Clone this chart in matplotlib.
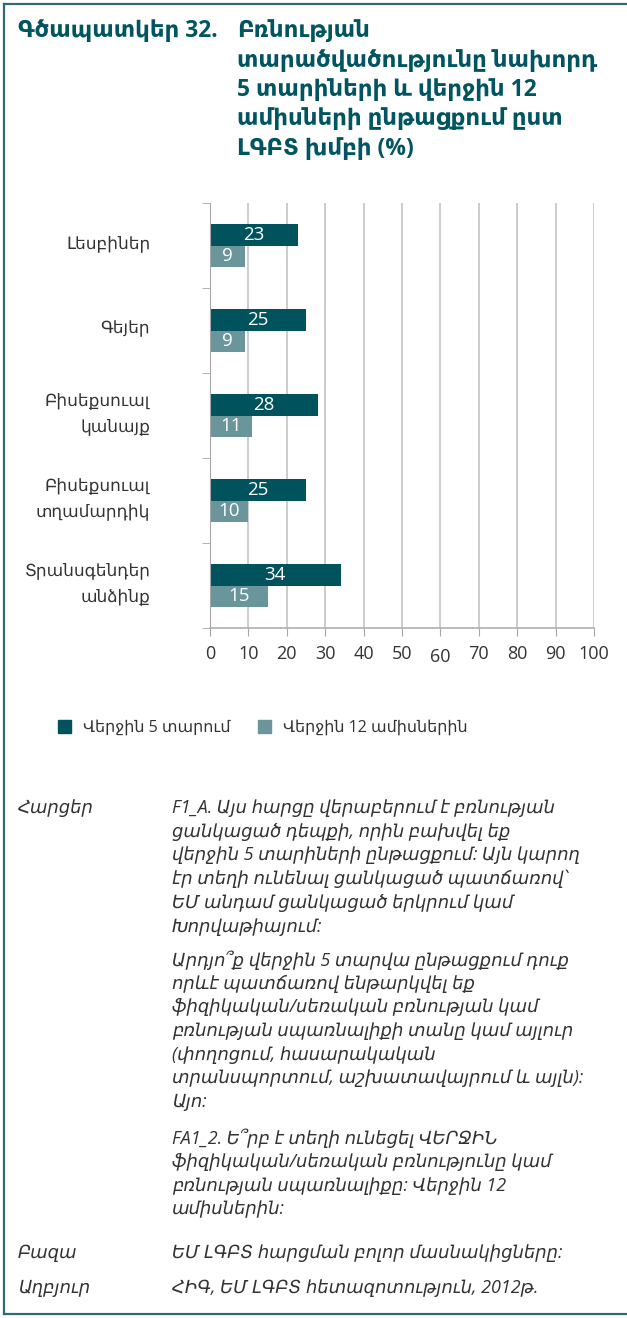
import matplotlib.pyplot as plt
from matplotlib.patches import Patch
from matplotlib.lines import Line2D
from matplotlib.transforms import ScaledTranslation

plt.rcParams['font.family'] = ['Open Sans', 'DejaVu Sans']

# data
categories = ['Լեսբիներ', 'Գեյեր', 'Բիսեքսուալ\nկանայք', 'Բիսեքսուալ\nտղամարդիկ',
              'Տրանսգենդեր\nանձինք']
last_5_years = [23, 25, 28, 25, 34]
last_12_months = [9, 9, 11, 10, 15]
series_names = ['Վերջին 5 տարում', 'Վերջին 12 ամիսներին']
x_ticks = [0, 10, 20, 30, 40, 50, 60, 70, 80, 90, 100]

title_head = 'Գծապատկեր 32.'
title_lines = ['Բռնության', 'տարածվածությունը նախորդ', '5 տարիների և վերջին 12',
               'ամիսների ընթացքում ըստ', 'ԼԳԲՏ խմբի (%)']

question_lines = [
    'F1_A. Այս հարցը վերաբերում է բռնության',
    'ցանկացած դեպքի, որին բախվել եք',
    'վերջին 5 տարիների ընթացքում: Այն կարող',
    'էր տեղի ունենալ ցանկացած պատճառով՝',
    'ԵՄ անդամ ցանկացած երկրում կամ',
    'Խորվաթիայում:',
    'Արդյո՞ք վերջին 5 տարվա ընթացքում դուք',
    'որևէ պատճառով ենթարկվել եք',
    'ֆիզիկական/սեռական բռնության կամ',
    'բռնության սպառնալիքի տանը կամ այլուր',
    '(փողոցում, հասարակական',
    'տրանսպորտում, աշխատավայրում և այլն):',
    'Այո:',
    'FA1_2. Ե՞րբ է տեղի ունեցել ՎԵՐՋԻՆ',
    'ֆիզիկական/սեռական բռնությունը կամ',
    'բռնության սպառնալիքը: Վերջին 12',
    'ամիսներին:',
]
question_y = [808, 832, 855, 879, 903, 927, 960, 984, 1007, 1031, 1055, 1078, 1102,
              1138, 1162, 1186, 1209]
base_label, base_text = 'Բազա', 'ԵՄ ԼԳԲՏ հարցման բոլոր մասնակիցները:'
source_label, source_text = 'Աղբյուր', 'ՀԻԳ, ԵՄ ԼԳԲՏ հետազոտություն, 2012թ.'

DARK = '#00535c'
LIGHT = '#6a969b'
TITLE_COLOR = '#005560'
BORDER = '#2e6b72'
GRID = '#c4c4c4'
TEXT = '#333333'

W, H = 627, 1318
fig = plt.figure(figsize=(W / 100, H / 100), dpi=100)


def fy(py):
    return 1 - py / H


def fx(px):
    return px / W


# frame (left, top, bottom)
for xs, ys in [([4, 4], [4, 1314]), ([4, W], [4, 4]), ([4, W], [1314, 1314])]:
    fig.add_artist(Line2D([fx(v) for v in xs], [fy(v) for v in ys], color=BORDER, lw=1.6))

# title
title_kw = dict(fontsize=16.5, color=TITLE_COLOR, fontweight='bold', va='center', ha='left')
fig.text(fx(18), fy(31), title_head, **title_kw)
for i, line in enumerate(title_lines):
    fig.text(fx(237), fy(31 + i * 29.5), line, **title_kw)

# chart
ax = fig.add_axes([fx(210), fy(628), fx(594) - fx(210), (628 - 203) / H])
pos = list(range(len(categories)))
h = 0.25
b1 = ax.barh([p - h / 2 for p in pos], last_5_years, height=h, color=DARK)
b2 = ax.barh([p + h / 2 for p in pos], last_12_months, height=h, color=LIGHT)
for bars, vals in [(b1, last_5_years), (b2, last_12_months)]:
    for bar, v in zip(bars, vals):
        ax.text(v / 2, bar.get_y() + bar.get_height() / 2, str(v), color='white',
                ha='center', va='center', fontsize=13.5)

ax.set_xlim(0, 100)
ax.set_ylim(len(categories) - 0.5, -0.5)
ax.set_xticks(x_ticks)
ax.set_xticklabels([str(t) for t in x_ticks])
ax.set_yticks(pos)
ax.set_yticklabels(categories, fontsize=12.2, color=TEXT, linespacing=1.75, va='center')
ax.set_yticks([p - 0.5 for p in pos] + [len(pos) - 0.5], minor=True)
ax.tick_params(axis='y', which='major', length=0, pad=43)
ax.tick_params(axis='y', which='minor', length=6, color='#a6a6a6', direction='out')
ax.tick_params(axis='x', length=6, color='#a6a6a6', labelsize=13, labelcolor=TEXT, pad=6)
ax.xaxis.grid(True, color=GRID, lw=1.2)
ax.set_axisbelow(True)
for s in ['top', 'right']:
    ax.spines[s].set_visible(False)
ax.spines['left'].set_color('#a6a6a6')
ax.spines['bottom'].set_color('#b0b0b0')
ax.spines['bottom'].set_linewidth(1.2)
for lab in ax.get_yticklabels():
    lab.set_transform(lab.get_transform() + ScaledTranslation(0, 2 / 100, fig.dpi_scale_trans))
for lab in ax.get_xticklabels():
    if lab.get_text() == '60':
        lab.set_transform(lab.get_transform() + ScaledTranslation(0, -3 / 100, fig.dpi_scale_trans))

# legend
handles = [Patch(color=DARK), Patch(color=LIGHT)]
fig.legend(handles, series_names, loc='center left', bbox_to_anchor=(fx(50), fy(728)), ncol=2,
           frameon=False, fontsize=11.5, handlelength=0.8, handleheight=0.8,
           handletextpad=0.75, columnspacing=1.75, labelcolor=TEXT, borderpad=0)

# notes
note_kw = dict(fontsize=13, color=TEXT, style='italic', va='center', ha='left')
fig.text(fx(18), fy(808), 'Հարցեր', **note_kw)
for line, y in zip(question_lines, question_y):
    fig.text(fx(172), fy(y), line, **note_kw)
fig.text(fx(18), fy(1253), base_label, **note_kw)
fig.text(fx(172), fy(1253), base_text, **note_kw)
fig.text(fx(18), fy(1288), source_label, **note_kw)
fig.text(fx(172), fy(1288), source_text, **note_kw)

fig.savefig('out.png', dpi=100, facecolor='white')
